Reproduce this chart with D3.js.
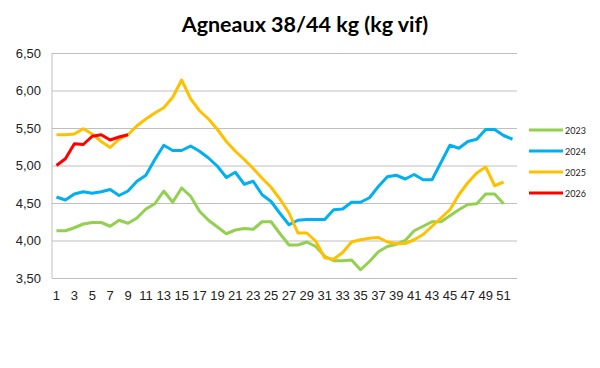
<!DOCTYPE html>
<html>
<head>
<meta charset="utf-8">
<script src="https://cdn.jsdelivr.net/npm/d3@7"></script>
<style>
  body { margin: 0; background: #fff; }
  svg { font-family: Lato, "Open Sans", sans-serif; }
  .grid line { stroke: #bfbfbf; stroke-width: 1; }
  .grid path { display: none; }
  .axis path, .axis line { display: none; }
  .axis text { fill: #222; font-size: 13px; }
  .line { fill: none; stroke-width: 3; stroke-linejoin: round; }
</style>
</head>
<body>
<div id="chart"></div>
<script>
// Weekly prices (euros / kg vif)
const weeks = d3.range(1, 53);
const yTicks = [3.5, 4.0, 4.5, 5.0, 5.5, 6.0, 6.5];

const s2023 = [4.13, 4.13, 4.17, 4.22, 4.24, 4.24, 4.19, 4.27, 4.23, 4.30,
  4.42, 4.49, 4.66, 4.51, 4.70, 4.59, 4.39, 4.27, 4.18, 4.09,
  4.14, 4.16, 4.15, 4.25, 4.25, 4.09, 3.94, 3.94, 3.98, 3.92,
  3.79, 3.73, 3.73, 3.74, 3.61, 3.72, 3.85, 3.92, 3.95, 4.00,
  4.13, 4.19, 4.25, 4.25, 4.33, 4.41, 4.48, 4.49, 4.62, 4.62, 4.49];

const s2024 = [4.58, 4.54, 4.62, 4.65, 4.63, 4.65, 4.68, 4.60, 4.66, 4.79,
  4.87, 5.08, 5.27, 5.20, 5.20, 5.26, 5.19, 5.10, 4.99, 4.84,
  4.91, 4.75, 4.79, 4.61, 4.52, 4.36, 4.21, 4.27, 4.28, 4.28,
  4.28, 4.41, 4.42, 4.51, 4.51, 4.57, 4.72, 4.85, 4.87, 4.82,
  4.88, 4.81, 4.81, 5.04, 5.27, 5.23, 5.32, 5.35, 5.48, 5.48, 5.40, 5.35];

const s2025 = [5.41, 5.41, 5.42, 5.49, 5.42, 5.32, 5.24, 5.35, 5.41, 5.53,
  5.62, 5.70, 5.77, 5.91, 6.14, 5.89, 5.73, 5.62, 5.48, 5.32,
  5.19, 5.08, 4.96, 4.83, 4.71, 4.55, 4.37, 4.10, 4.10, 3.99,
  3.77, 3.75, 3.84, 3.98, 4.01, 4.03, 4.04, 3.98, 3.96, 3.96,
  4.01, 4.08, 4.19, 4.30, 4.41, 4.61, 4.77, 4.90, 4.98, 4.73, 4.78];

const s2026 = [5.00, 5.09, 5.29, 5.28, 5.39, 5.41, 5.34, 5.38, 5.41];

const series = [
  { key: '2023', values: s2023, color: '#92d050' },
  { key: '2024', values: s2024, color: '#00b0f0' },
  { key: '2025', values: s2025, color: '#ffc000' },
  { key: '2026', values: s2026, color: '#ff0000' }
];

const WIDTH = 600, HEIGHT = 368;
const MARGIN = { top: 53, right: 83, bottom: 90, left: 52 };
const width = WIDTH - MARGIN.left - MARGIN.right;
const height = HEIGHT - MARGIN.top - MARGIN.bottom;

const svg = d3.select('#chart').append('svg')
  .attr('width', WIDTH)
  .attr('height', HEIGHT);

svg.append('text')
  .attr('x', 305)
  .attr('y', 32)
  .attr('text-anchor', 'middle')
  .attr('font-size', '21.5px')
  .attr('font-weight', 'bold')
  .attr('fill', '#000')
  .text('Agneaux 38/44 kg (kg vif)');

const g = svg.append('g')
  .attr('transform', `translate(${MARGIN.left},${MARGIN.top})`);

// Category axis, one band per week
const x = d3.scaleBand()
  .domain(weeks)
  .range([0, width]);

const y = d3.scaleLinear()
  .domain([3.5, 6.5])
  .range([height, 0]);

// Horizontal grid lines
g.append('g')
  .attr('class', 'grid')
  .call(d3.axisLeft(y)
    .tickValues(yTicks)
    .tickSize(-width)
    .tickFormat(''));

// Left axis line
g.append('line')
  .attr('x1', 0).attr('x2', 0)
  .attr('y1', 0).attr('y2', height)
  .attr('stroke', '#bfbfbf');

// Y-axis labels
const fmt = d3.format('.2f');
g.append('g')
  .attr('class', 'axis')
  .call(d3.axisLeft(y)
    .tickValues(yTicks)
    .tickSize(0)
    .tickPadding(11)
    .tickFormat(d => fmt(d).replace('.', ',')));

// X-axis labels, every other week
g.append('g')
  .attr('class', 'axis')
  .attr('transform', `translate(0,${height})`)
  .call(d3.axisBottom(x)
    .tickValues(weeks.filter(w => w % 2 === 1))
    .tickSize(0)
    .tickPadding(13));

// Lines
const line = d3.line()
  .x((d, i) => x(i + 1) + x.bandwidth() / 2)
  .y(d => y(d));

series.forEach(s => {
  g.append('path')
    .datum(s.values)
    .attr('class', 'line')
    .attr('d', line)
    .attr('stroke', s.color);
});

// Legend
const legend = svg.append('g')
  .attr('transform', 'translate(529, 130)');

series.forEach((s, i) => {
  const row = legend.append('g')
    .attr('transform', `translate(0, ${i * 21})`);

  row.append('line')
    .attr('x1', 0).attr('x2', 34)
    .attr('stroke', s.color)
    .attr('stroke-width', 3);

  row.append('text')
    .attr('x', 36)
    .attr('y', 3.5)
    .attr('font-size', '9px')
    .attr('fill', '#222')
    .text(s.key);
});
</script>
</body>
</html>
